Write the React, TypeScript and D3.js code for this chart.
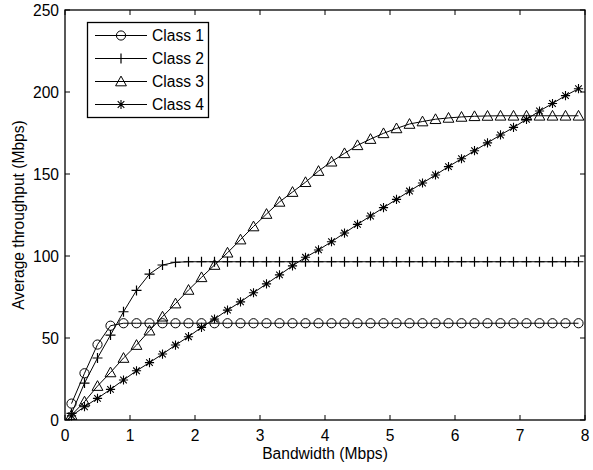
import React from "react";
import * as d3 from "d3";

const xValues = [0.1, 0.3, 0.5, 0.7, 0.9, 1.1, 1.3, 1.5, 1.7, 1.9, 2.1, 2.3, 2.5, 2.7, 2.9, 3.1, 3.3, 3.5, 3.7, 3.9, 4.1, 4.3, 4.5, 4.7, 4.9, 5.1, 5.3, 5.5, 5.7, 5.9, 6.1, 6.3, 6.5, 6.7, 6.9, 7.1, 7.3, 7.5, 7.7, 7.9];

const class1 = [10, 28.5, 46, 57.5, 59, 59, 59, 59, 59, 59, 59, 59, 59, 59, 59, 59, 59, 59, 59, 59, 59, 59, 59, 59, 59, 59, 59, 59, 59, 59, 59, 59, 59, 59, 59, 59, 59, 59, 59, 59];
const class2 = [4, 22.5, 37.8, 51.8, 66, 79, 89, 94.5, 96.2, 96.5, 96.5, 96.5, 96.5, 96.5, 96.5, 96.5, 96.5, 96.5, 96.5, 96.5, 96.5, 96.5, 96.5, 96.5, 96.5, 96.5, 96.5, 96.5, 96.5, 96.5, 96.5, 96.5, 96.5, 96.5, 96.5, 96.5, 96.5, 96.5, 96.5, 96.5];
const class3 = [3, 11.2, 20.7, 29, 37.8, 45.7, 54.5, 63, 71, 79.3, 87, 94.5, 102, 110, 118, 125.6, 133, 139, 145, 151.8, 157.5, 162.6, 167.5, 171.3, 174.8, 177.8, 180.5, 182, 183.4, 184.2, 184.8, 185.2, 185.4, 185.5, 185.5, 185.5, 185.5, 185.5, 185.5, 185.5];
const class4 = [2.5, 8.1, 13.2, 18.7, 24.4, 30, 35, 40.2, 45.7, 50.8, 56.5, 61.6, 67, 72, 77.6, 83, 88.5, 94, 99.2, 103.7, 108.7, 114, 119.3, 124.4, 129.5, 134.5, 139.6, 144.5, 149.4, 154.5, 159.3, 164.2, 169, 173.8, 178.4, 183.3, 188.4, 193, 197.8, 202];

const seriesNames = ["Class 1", "Class 2", "Class 3", "Class 4"];
const seriesMarkers = ["circle", "plus", "triangle", "star"];
const seriesValues = [class1, class2, class3, class4];

const xTicks = [0, 1, 2, 3, 4, 5, 6, 7, 8];
const yTicks = [0, 50, 100, 150, 200, 250];

const W = 593, H = 470;
const L = 65, R = 585, T = 10, B = 420;
const FONT = "'Liberation Sans', Arial, Helvetica, sans-serif";
const FS = 15.6;

function Marker({ type, x, y }: { type: string; x: number; y: number }) {
  if (type === "circle") return <circle cx={x} cy={y} r={4.6} fill="none" stroke="#000" strokeWidth={1} />;
  if (type === "plus")
    return <path d={`M${x - 5},${y}H${x + 5}M${x},${y - 5}V${y + 5}`} stroke="#000" strokeWidth={1.2} fill="none" />;
  if (type === "triangle") {
    const s = 5.4;
    return <path d={`M${x},${y - s}L${x + s},${y + s * 0.8}L${x - s},${y + s * 0.8}Z`} fill="none" stroke="#000" strokeWidth={1} />;
  }
  const a = 4.6, b = 3.3;
  return (
    <path
      d={`M${x - a},${y}H${x + a}M${x},${y - a}V${y + a}M${x - b},${y - b}L${x + b},${y + b}M${x - b},${y + b}L${x + b},${y - b}`}
      stroke="#000"
      strokeWidth={1.1}
      fill="none"
    />
  );
}

export default function App() {
  const x = d3.scaleLinear().domain([0, 8]).range([L, R]);
  const y = d3.scaleLinear().domain([0, 250]).range([B, T]);
  const line = d3
    .line<number>()
    .x((_, i) => x(xValues[i]))
    .y((d) => y(d));

  return (
    <svg width={W} height={H} style={{ position: "absolute", left: 0, top: 0, background: "#fff" }} fontFamily={FONT}>
      <rect x={0} y={0} width={W} height={H} fill="#fff" />
      {seriesValues.map((vals, si) => (
        <g key={si}>
          <path d={line(vals) || ""} fill="none" stroke="#000" strokeWidth={1} />
          {vals.map((v, i) => (
            <Marker key={i} type={seriesMarkers[si]} x={x(xValues[i])} y={y(v)} />
          ))}
        </g>
      ))}
      {/* axes box */}
      <rect x={L} y={T} width={R - L} height={B - T} fill="none" stroke="#000" strokeWidth={1.3} />
      {xTicks.map((t) => (
        <g key={t}>
          <line x1={x(t)} x2={x(t)} y1={B} y2={B - 5} stroke="#000" />
          <line x1={x(t)} x2={x(t)} y1={T} y2={T + 5} stroke="#000" />
          <text x={x(t)} y={441} fontSize={FS} textAnchor="middle" fill="#000">
            {t}
          </text>
        </g>
      ))}
      {yTicks.map((t) => (
        <g key={t}>
          <line x1={L} x2={L + 5} y1={y(t)} y2={y(t)} stroke="#000" />
          <line x1={R} x2={R - 5} y1={y(t)} y2={y(t)} stroke="#000" />
          <text x={59} y={y(t) + 5.5} fontSize={FS} textAnchor="end" fill="#000">
            {t}
          </text>
        </g>
      ))}
      <text x={(L + R) / 2} y={459} fontSize={FS} textAnchor="middle" fill="#000">
        Bandwidth (Mbps)
      </text>
      <text transform={`translate(24,${(T + B) / 2}) rotate(-90)`} fontSize={FS} textAnchor="middle" fill="#000">
        Average throughput (Mbps)
      </text>
      {/* legend */}
      <rect x={87.5} y={22.5} width={121} height={95} fill="#fff" stroke="#000" strokeWidth={1.3} />
      {seriesNames.map((name, i) => {
        const ly = 35.5 + i * 23;
        return (
          <g key={name}>
            <line x1={95} x2={147} y1={ly} y2={ly} stroke="#000" strokeWidth={1} />
            <Marker type={seriesMarkers[i]} x={121} y={ly} />
            <text x={152} y={ly + 5.5} fontSize={FS} fill="#000">
              {name}
            </text>
          </g>
        );
      })}
    </svg>
  );
}
